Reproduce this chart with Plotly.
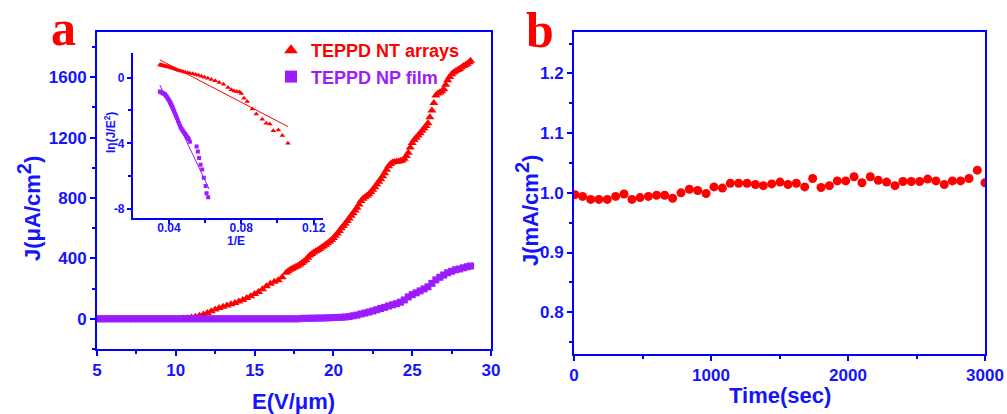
import plotly.graph_objects as go

# ---------------- data: panel a (main) ----------------
E_nt = [5.0, 5.25, 5.5, 5.75, 6.0, 6.25, 6.5, 6.75, 7.0, 7.25, 7.5, 7.75,
        8.0, 8.25, 8.5, 8.75, 9.0, 9.25, 9.5, 9.75, 10.0, 10.25, 10.5, 10.75,
        11.0, 11.25, 11.5, 11.75, 12.0, 12.25, 12.5, 12.75, 13.0, 13.25, 13.5, 13.75,
        14.0, 14.25, 14.5, 14.75, 15.0, 15.25, 15.5, 15.75, 16.0, 16.25, 16.5, 16.75,
        17.0, 17.125, 17.25, 17.375, 17.5, 17.625, 17.75, 17.875,
        18.0, 18.125, 18.25, 18.375, 18.5, 18.625, 18.75, 18.875,
        19.0, 19.125, 19.25, 19.375, 19.5, 19.625, 19.75, 19.875,
        20.0, 20.125, 20.25, 20.375, 20.5, 20.625, 20.75, 20.875,
        21.0, 21.125, 21.25, 21.375, 21.5, 21.625, 21.75, 21.875,
        22.0, 22.125, 22.25, 22.375, 22.5, 22.625, 22.75, 22.875,
        23.0, 23.125, 23.25, 23.375, 23.5, 23.625, 23.75, 23.875,
        24.0, 24.125, 24.25, 24.375, 24.5, 24.625, 24.75, 24.875,
        25.0, 25.125, 25.25, 25.375, 25.5, 25.625, 25.75, 25.875,
        26.0, 26.125, 26.25, 26.375, 26.5, 26.625, 26.75, 26.875,
        27.0, 27.125, 27.25, 27.375, 27.5, 27.625, 27.75, 27.875,
        28.0, 28.125, 28.25, 28.375, 28.5, 28.625, 28.7]

J_nt = [0, 0, 0, 0, 0, 0, 0, 0, 0, 0, 0, 0,
        0, 0, 0, 0, 0, 0, 0, 0, 0, 0, 2, 4,
        8, 14, 20, 28, 38, 50, 62, 72, 80, 88, 96, 104,
        115, 125, 138, 150, 165, 178, 195, 215, 232, 245, 255, 275,
        305, 315, 325, 332, 338, 345, 352, 360,
        370, 380, 390, 405, 420, 430, 440, 448,
        455, 463, 472, 481, 490, 500, 510, 522,
        535, 550, 565, 582, 600, 615, 630, 648,
        665, 682, 700, 718, 735, 758, 780, 795,
        805, 815, 825, 840, 855, 872, 890, 908,
        925, 945, 965, 988, 1010, 1025, 1035, 1038,
        1040, 1042, 1045, 1050, 1060, 1078, 1100, 1135,
        1165, 1185, 1200, 1215, 1230, 1245, 1260, 1278,
        1295, 1335, 1380, 1430, 1480, 1492, 1500, 1508,
        1520, 1550, 1580, 1602, 1620, 1632, 1640, 1648,
        1655, 1665, 1675, 1682, 1690, 1700, 1710]

E_np = [5.0, 5.25, 5.5, 5.75, 6.0, 6.25, 6.5, 6.75, 7.0, 7.25, 7.5, 7.75,
        8.0, 8.25, 8.5, 8.75, 9.0, 9.25, 9.5, 9.75, 10.0, 10.25, 10.5, 10.75,
        11.0, 11.25, 11.5, 11.75, 12.0, 12.25, 12.5, 12.75, 13.0, 13.25, 13.5, 13.75,
        14.0, 14.25, 14.5, 14.75, 15.0, 15.25, 15.5, 15.75, 16.0, 16.25, 16.5, 16.75,
        17.0, 17.25, 17.5, 17.75, 18.0, 18.25, 18.5, 18.75, 19.0, 19.25, 19.5, 19.75,
        20.0, 20.25, 20.5, 20.75, 21.0, 21.25, 21.5, 21.75, 22.0, 22.25, 22.5, 22.75,
        23.0, 23.25, 23.5, 23.75, 24.0, 24.25, 24.5, 24.75, 25.0, 25.25, 25.5, 25.75,
        26.0, 26.25, 26.5, 26.75, 27.0, 27.25, 27.5, 27.75, 28.0, 28.25, 28.5, 28.7]

J_np = [0, 0, 0, 0, 0, 0, 0, 0, 0, 0, 0, 0,
        0, 0, 0, 0, 0, 0, 0, 0, 0, 0, 0, 0,
        0, 0, 0, 0, 0, 0, 0, 0, 0, 0, 0, 0,
        0, 0, 0, 0, 0, 0, 0, 0, 0, 0, 0, 0,
        0, 0, 0, 0, 3, 3, 4, 4, 5, 5, 6, 7,
        8, 9, 10, 12, 15, 20, 25, 32, 38, 45, 52, 60,
        68, 76, 85, 93, 100, 110, 125, 145, 160, 172, 185, 198,
        212, 235, 258, 275, 290, 305, 315, 325, 330, 338, 345, 350]

# ---------------- data: panel a (inset, F-N plot) ----------------
inv_E_nt = [0.0350, 0.0355, 0.0360, 0.0365, 0.0370, 0.0376, 0.0382, 0.0388, 0.0394, 0.0400,
            0.0408, 0.0416, 0.0425, 0.0434, 0.0444, 0.0455, 0.0466, 0.0478, 0.0490, 0.0503,
            0.0517, 0.0532, 0.0548, 0.0563, 0.0580, 0.0597, 0.0615, 0.0635, 0.0656, 0.0678,
            0.0702, 0.0727, 0.0745, 0.0760, 0.0775, 0.0790, 0.0800,
            0.0815, 0.0833, 0.0861, 0.0883, 0.0916, 0.0938, 0.0958, 0.0977, 0.1005, 0.1027, 0.1058]
lnJE2_nt = [0.77, 0.78, 0.76, 0.74, 0.73, 0.71, 0.70, 0.68, 0.66, 0.64,
            0.61, 0.58, 0.55, 0.52, 0.48, 0.44, 0.41, 0.37, 0.33, 0.30,
            0.27, 0.23, 0.19, 0.14, 0.09, 0.03, -0.04, -0.11, -0.19, -0.29,
            -0.41, -0.60, -0.74, -0.82, -0.85, -0.87, -0.97,
            -1.26, -1.46, -1.91, -2.21, -2.54, -2.78, -2.82, -3.23, -3.19, -3.53, -4.0]

inv_E_np = [0.0350, 0.0355, 0.0360, 0.0365, 0.0370, 0.0375, 0.0380, 0.0385, 0.0390, 0.0395,
            0.0400, 0.0405, 0.0410, 0.0415, 0.0420, 0.0425, 0.0430, 0.0435, 0.0440, 0.0445,
            0.0450, 0.0455, 0.0460, 0.0465, 0.0470, 0.0475, 0.0480, 0.0485, 0.0490, 0.0495,
            0.0500, 0.0505, 0.0510, 0.0516,
            0.0553, 0.0560, 0.0567, 0.0575, 0.0584, 0.0593, 0.0603, 0.0608, 0.0617]
lnJE2_np = [-0.85, -0.88, -0.90, -0.93, -0.96, -1.00, -1.05, -1.12, -1.20, -1.28,
            -1.36, -1.45, -1.55, -1.66, -1.78, -1.92, -2.06, -2.20, -2.34, -2.48,
            -2.62, -2.76, -2.90, -3.02, -3.12, -3.20, -3.28, -3.36, -3.44, -3.52,
            -3.60, -3.68, -3.76, -3.90,
            -4.2, -4.5, -4.9, -5.3, -5.6, -6.1, -6.6, -7.05, -7.29]

fit_nt_x = [0.035, 0.1058]
fit_nt_y = [1.08, -2.98]
fit_np_x = [0.035, 0.0623]
fit_np_y = [-0.45, -6.8]

# ---------------- data: panel b ----------------
time_s = [7, 63, 122, 182, 243, 304, 365, 423, 482, 543, 603, 662, 720, 781, 842, 903,
          964, 1022, 1083, 1141, 1202, 1263, 1324, 1382, 1443, 1504, 1562, 1623, 1684,
          1742, 1803, 1864, 1922, 1983, 2044, 2102, 2163, 2221, 2282, 2343, 2401, 2462,
          2523, 2582, 2642, 2703, 2762, 2822, 2883, 2944, 3000]
J_time = [0.997, 0.994, 0.989, 0.989, 0.989, 0.994, 0.998, 0.989, 0.992, 0.994, 0.996,
          0.996, 0.991, 1.000, 1.006, 1.004, 0.999, 1.010, 1.008, 1.016, 1.016, 1.016,
          1.014, 1.012, 1.015, 1.018, 1.014, 1.016, 1.010, 1.024, 1.009, 1.012, 1.020,
          1.020, 1.027, 1.017, 1.027, 1.021, 1.018, 1.012, 1.019, 1.019, 1.019, 1.023,
          1.020, 1.014, 1.020, 1.020, 1.024, 1.038, 1.017]

BLUE = "#0000ff"
TXT = "#1414ff"
RED = "#ff0000"
PURPLE = "#9a1cff"
SANS = "Liberation Sans, Arial, sans-serif"
W, H = 1007, 414


def px(x):
    return x / W


def py(y):
    return 1 - y / H


fig = go.Figure()

fig.add_trace(go.Scatter(
    x=E_nt, y=J_nt, mode="markers", xaxis="x", yaxis="y",
    name="<span style='color:#ff0000'>TEPPD NT arrays</span>",
    marker=dict(symbol="triangle-up", size=8, color=RED, line=dict(width=0))))
fig.add_trace(go.Scatter(
    x=E_np, y=J_np, mode="markers", xaxis="x", yaxis="y",
    name="<span style='color:#9a1cff'>TEPPD NP film</span>",
    marker=dict(symbol="square", size=7, color=PURPLE, line=dict(width=0))))

# inset
fig.add_trace(go.Scatter(
    x=fit_nt_x, y=fit_nt_y, mode="lines", xaxis="x2", yaxis="y2", showlegend=False,
    line=dict(color=RED, width=1)))
fig.add_trace(go.Scatter(
    x=fit_np_x, y=fit_np_y, mode="lines", xaxis="x2", yaxis="y2", showlegend=False,
    line=dict(color=PURPLE, width=1)))
fig.add_trace(go.Scatter(
    x=inv_E_nt, y=lnJE2_nt, mode="markers", xaxis="x2", yaxis="y2", showlegend=False,
    marker=dict(symbol="triangle-up", size=5, color=RED, line=dict(width=0))))
fig.add_trace(go.Scatter(
    x=inv_E_np, y=lnJE2_np, mode="markers", xaxis="x2", yaxis="y2", showlegend=False,
    marker=dict(symbol="square", size=4, color=PURPLE, line=dict(width=0))))

# panel b
fig.add_trace(go.Scatter(
    x=time_s, y=J_time, mode="markers", xaxis="x3", yaxis="y3", showlegend=False,
    marker=dict(symbol="circle", size=9, color=RED, line=dict(width=0))))

tickfont_main = dict(family=SANS, size=17, color=TXT, weight="bold")
tickfont_inset = dict(family=SANS, size=12, color=TXT, weight="bold")

common = dict(showgrid=False, zeroline=False, showline=True, linecolor=BLUE, automargin=False,
              linewidth=2, ticks="outside", tickcolor=BLUE, tickwidth=2, ticklen=5)
inset_common = dict(showgrid=False, zeroline=False, showline=True, linecolor=BLUE,
                    automargin=False, linewidth=1.5, ticks="outside", tickcolor=BLUE,
                    tickwidth=1.5, ticklen=4, tickfont=tickfont_inset)

fig.update_layout(
    width=W, height=H, autosize=False,
    margin=dict(l=0, r=0, t=0, b=0, autoexpand=False),
    paper_bgcolor="white", plot_bgcolor="rgba(0,0,0,0)",
    xaxis=dict(domain=[px(97), px(491)], anchor="y", range=[5, 30], tick0=5, dtick=5,
               mirror=True, tickfont=tickfont_main,
               minor=dict(dtick=2.5, ticks="outside", ticklen=3, tickcolor=BLUE, tickwidth=2),
               **common),
    yaxis=dict(domain=[py(349), py(32)], anchor="x", range=[-200, 1900], tick0=0, dtick=400,
               mirror=True, tickfont=tickfont_main,
               minor=dict(dtick=200, ticks="outside", ticklen=3, tickcolor=BLUE, tickwidth=2),
               **common),
    xaxis2=dict(domain=[px(132.7), px(322.7)], anchor="y2", range=[0.02, 0.125],
                tickvals=[0.04, 0.08, 0.12], ticktext=["0.04", "0.08", "0.12"],
                ticklabelstandoff=-6,
                minor=dict(tickvals=[0.06, 0.10], ticks="outside", ticklen=3,
                           tickcolor=BLUE, tickwidth=1.5),
                **inset_common),
    yaxis2=dict(domain=[py(218), py(53)], anchor="x2", range=[-8.55, 1.5],
                tickvals=[-8, -4, 0], ticktext=["-8", "-4", "0"],
                minor=dict(tickvals=[-6, -2], ticks="outside", ticklen=3,
                           tickcolor=BLUE, tickwidth=1.5),
                **inset_common),
    xaxis3=dict(domain=[px(574), px(985)], anchor="y3", range=[0, 3000], tick0=0, dtick=1000,
                mirror=True, tickfont=tickfont_main,
                minor=dict(dtick=500, ticks="outside", ticklen=3, tickcolor=BLUE, tickwidth=2),
                **common),
    yaxis3=dict(domain=[py(354), py(31.7)], anchor="x3", range=[0.73, 1.27], tick0=0.8,
                dtick=0.1, tickformat=".1f", mirror=True, tickfont=tickfont_main,
                minor=dict(dtick=0.05, ticks="outside", ticklen=3, tickcolor=BLUE, tickwidth=2),
                **common),
    legend=dict(x=px(271), y=py(32), xanchor="left", yanchor="top",
                bgcolor="rgba(0,0,0,0)", borderwidth=0,
                font=dict(family=SANS, size=18, weight="bold"),
                itemsizing="constant", tracegroupgap=0),
)

ann = []
title_font = dict(family=SANS, size=22, color=TXT, weight="bold")
inset_title_font = dict(family=SANS, size=12, color=TXT, weight="bold")
SUP2 = "<sup><span style='font-size:20px'>2</span></sup>"
ann.append(dict(text="E(V/μm)", x=px(293), y=py(401), font=title_font))
ann.append(dict(text="J(μA/cm" + SUP2 + ")", x=px(29), y=py(209), textangle=-90, font=title_font))
ann.append(dict(text="Time(sec)", x=px(780), y=py(395), font=title_font))
ann.append(dict(text="J(mA/cm" + SUP2 + ")", x=px(527), y=py(211), textangle=-90, font=title_font))
ann.append(dict(text="1/E", x=px(236), y=py(241), font=inset_title_font))
ann.append(dict(text="ln(J/E<sup>2</sup>)", x=px(110), y=py(133), textangle=-90, font=inset_title_font))
label_font = dict(family="Liberation Serif, Times New Roman, serif", size=50, color=RED, weight="bold")
ann.append(dict(text="a", x=px(63.5), y=py(28), font=label_font))
ann.append(dict(text="b", x=px(540), y=py(30), font=label_font))

for a in ann:
    a.update(xref="paper", yref="paper", showarrow=False, xanchor="center", yanchor="middle")
fig.update_layout(annotations=ann)

fig.write_html(
    "out.html",
    config={"displayModeBar": False},
    post_script="document.body.style.margin='0';document.body.style.padding='0';",
)
